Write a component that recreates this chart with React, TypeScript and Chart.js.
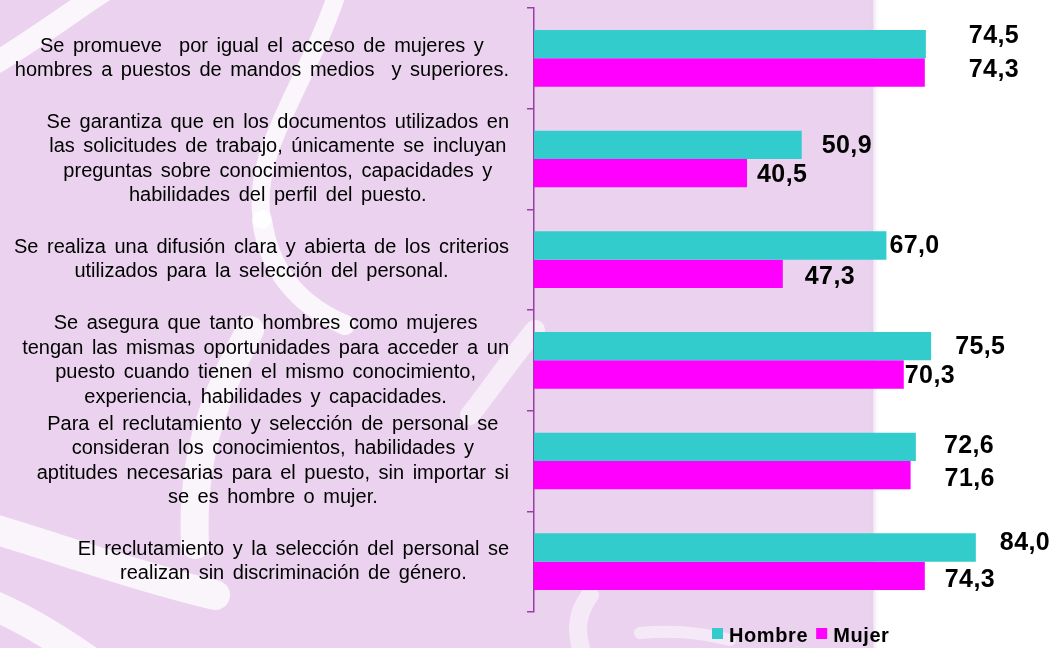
import { useEffect, useRef } from "react";
import { Chart, registerables } from "chart.js";

Chart.register(...registerables);

// ---------- data ----------
const categories: string[][] = [
  ["Se promueve  por igual el acceso de mujeres y", "hombres a puestos de mandos medios  y superiores."],
  [
    "Se garantiza que en los documentos utilizados en",
    "las solicitudes de trabajo, únicamente se incluyan",
    "preguntas sobre conocimientos, capacidades y",
    "habilidades del perfil del puesto.",
  ],
  ["Se realiza una difusión clara y abierta de los criterios", "utilizados para la selección del personal."],
  [
    "Se asegura que tanto hombres como mujeres",
    "tengan las mismas oportunidades para acceder a un",
    "puesto cuando tienen el mismo conocimiento,",
    "experiencia, habilidades y capacidades.",
  ],
  [
    "Para el reclutamiento y selección de personal se",
    "consideran los conocimientos, habilidades y",
    "aptitudes necesarias para el puesto, sin importar si",
    "se es hombre o mujer.",
  ],
  ["El reclutamiento y la selección del personal se", "realizan sin discriminación de género."],
];
const hombre = [74.5, 50.9, 67.0, 75.5, 72.6, 84.0];
const mujer = [74.3, 40.5, 47.3, 70.3, 71.6, 74.3];
const seriesNames = ["Hombre", "Mujer"];

// ---------- style ----------
const seriesColors = ["#33CCCC", "#FF00FF"];
const LAVENDER = "#EBD3EF";
const AXIS_COLOR = "#9A3DA8";
const FONT = "'Liberation Sans', Arial, sans-serif";
// manual label offsets (dx from bar end, dy from bar centre), as in the original
const LABEL_DX = [
  [43, 20, 3, 24, 28, 24],
  [44, 10, 22, 1, 34, 20],
];
const LABEL_DY = [
  [-10, -1, -1, -1, -3, -6],
  [-5, 0, 1, -1, 2, 2],
];

const fmt = (v: number) => v.toFixed(1).replace(".", ",");

const backgroundPlugin = {
  id: "bg",
  beforeDraw(chart: any) {
    const { ctx, width, height } = chart;
    ctx.save();
    ctx.fillStyle = "#FFFFFF";
    ctx.fillRect(0, 0, width, height);
    ctx.fillStyle = LAVENDER;
    ctx.fillRect(0, 0, 873, height);
    const g = ctx.createLinearGradient(866, 0, 880, 0);
    g.addColorStop(0, "rgba(235,211,239,0)");
    g.addColorStop(0.5, "rgba(225,205,232,0.6)");
    g.addColorStop(1, "rgba(255,255,255,0)");
    ctx.fillStyle = g;
    ctx.fillRect(866, 0, 14, height);

    ctx.beginPath();
    ctx.rect(0, 0, 873, height);
    ctx.clip();
    ctx.lineCap = "round";
    const stroke = (w: number, pts: number[], alpha = 0.8) => {
      ctx.strokeStyle = `rgba(255,255,255,${alpha})`;
      ctx.lineWidth = w;
      ctx.beginPath();
      ctx.moveTo(pts[0], pts[1]);
      ctx.bezierCurveTo(pts[2], pts[3], pts[4], pts[5], pts[6], pts[7]);
      ctx.stroke();
    };
    // top-left arc
    stroke(22, [-20, 72, 20, 50, 60, 20, 105, -10]);
    // main S curve
    stroke(18, [338, -10, 310, 80, 250, 150, 262, 220]);
    stroke(20, [262, 220, 270, 280, 310, 310, 345, 325]);
    // middle-lower band
    stroke(28, [250, 330, 225, 380, 190, 440, 195, 545], 0.75);
    // right piece near axis
    stroke(20, [535, 330, 510, 360, 490, 390, 470, 415], 0.6);
    // lower-left bands
    stroke(30, [-20, 525, 50, 545, 130, 575, 215, 595], 0.75);
    stroke(30, [-20, 600, 20, 615, 60, 640, 95, 665], 0.75);
    // faint shapes near the legend
    stroke(18, [590, 595, 575, 615, 575, 635, 585, 660], 0.5);
    stroke(12, [640, 633, 670, 630, 700, 632, 730, 640], 0.5);
    ctx.restore();
  },
};

const textPlugin = {
  id: "texts",
  afterDraw(chart: any) {
    const { ctx } = chart;
    const yScale = chart.scales.y;
    ctx.save();

    // category labels: block right-aligned, lines centred inside the block
    ctx.font = `20px ${FONT}`;
    ctx.fillStyle = "#000000";
    (ctx as any).letterSpacing = "0px";
    (ctx as any).wordSpacing = "3px";
    ctx.textBaseline = "middle";
    ctx.textAlign = "center";
    const lh = 24.5;
    const right = 509;
    categories.forEach((lines, i) => {
      const cy = yScale.getPixelForValue(i);
      const maxW = Math.max(...lines.map((l) => ctx.measureText(l).width));
      const cx = right - maxW / 2;
      lines.forEach((l, j) => {
        const y = cy + (j - (lines.length - 1) / 2) * lh;
        ctx.fillText(l, cx, y);
      });
    });

    // value labels
    ctx.font = `bold 25px ${FONT}`;
    (ctx as any).letterSpacing = "0.4px";
    (ctx as any).wordSpacing = "0px";
    ctx.textAlign = "left";
    ctx.textBaseline = "alphabetic";
    chart.data.datasets.forEach((ds: any, di: number) => {
      const meta = chart.getDatasetMeta(di);
      meta.data.forEach((el: any, i: number) => {
        const v = ds.data[i];
        ctx.fillText(fmt(v), el.x + LABEL_DX[di][i], el.y + LABEL_DY[di][i] + 9);
      });
    });

    // legend
    ctx.font = `bold 20px ${FONT}`;
    (ctx as any).letterSpacing = "0.6px";
    let x = 712;
    const boxY = 628;
    seriesNames.forEach((name, i) => {
      ctx.fillStyle = seriesColors[i];
      ctx.fillRect(x, boxY, 11, 11);
      x += 11 + 6;
      ctx.fillStyle = "#000000";
      ctx.fillText(name, x, 642);
      x += ctx.measureText(name).width + 8;
    });
    ctx.restore();
  },
};

export default function App() {
  const canvasRef = useRef<HTMLCanvasElement | null>(null);

  useEffect(() => {
    if (!canvasRef.current) return;
    const chart = new Chart(canvasRef.current, {
      type: "bar",
      data: {
        labels: categories.map((c) => c.join(" ")),
        datasets: [
          {
            label: seriesNames[0],
            data: hombre,
            backgroundColor: seriesColors[0],
            borderWidth: 0,
          },
          {
            label: seriesNames[1],
            data: mujer,
            backgroundColor: seriesColors[1],
            borderWidth: 0,
          },
        ],
      },
      options: {
        indexAxis: "y",
        responsive: false,
        devicePixelRatio: 1,
        animation: false,
        layout: { padding: { top: 8, bottom: 36, left: 0, right: 1 } },
        datasets: { bar: { categoryPercentage: 0.563, barPercentage: 1 } },
        plugins: {
          legend: { display: false },
          tooltip: { enabled: false },
          title: { display: false },
        },
        scales: {
          x: { display: false, min: 0, max: 100 },
          y: {
            type: "category",
            offset: true,
            grid: {
              display: true,
              drawOnChartArea: false,
              drawTicks: true,
              tickLength: 7,
              color: AXIS_COLOR,
              lineWidth: 1.5,
              offset: true,
            },
            border: { display: true, color: AXIS_COLOR, width: 1.5 },
            ticks: { display: false },
            afterFit: (s: any) => {
              s.width = 534;
            },
          },
        },
      },
      plugins: [backgroundPlugin, textPlugin],
    } as any);
    return () => chart.destroy();
  }, []);

  return (
    <canvas
      ref={canvasRef}
      width={1061}
      height={648}
      style={{ position: "fixed", left: 0, top: 0, width: 1061, height: 648, display: "block" }}
    />
  );
}
